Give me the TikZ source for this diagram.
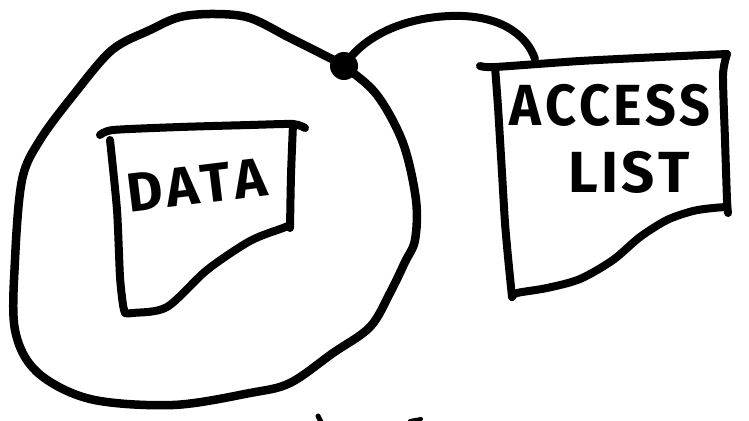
\documentclass[tikz,border=0pt]{standalone}
\usepackage{fontspec}
\setmainfont{Fira Sans}
\newfontfamily\handfont{Fira Sans}[LetterSpace=6, Kerning=Off]
\begin{document}
\begin{tikzpicture}[x=1pt,y=-1pt,
  ink/.style={line width=8.5pt, line cap=round, line join=round, black},
  pen/.style={line width=8pt, line cap=round, line join=round, black},
  hand/.style={font=\handfont\fontsize{58}{58}\selectfont\bfseries, inner sep=0pt}]
\useasboundingbox (0,0) rectangle (749,420);
\clip (0,0) rectangle (749,420);
\fill[white] (0,0) rectangle (749,420);

% the enclosing object
\draw[ink] plot[smooth cycle, tension=0.55] coordinates {(345,67) (377,95) (403,143) (416,200) (415,240) (405,262) (390,293) (370,327) (333,353) (290,383) (250,393) (173,405) (90,399) (37,372) (15,330) (15,260) (22,180) (40,140) (75,93) (112,50) (150,30) (180,17) (215,14) (250,18) (290,38) (320,53)};

% data sheet
\draw[pen] plot[smooth, tension=0.4] coordinates {(100,135) (113,130) (180,127) (250,125) (293,124) (305,128)};
\draw[pen] plot[smooth, tension=0.4] coordinates {(293,124) (291,175) (290,228)};
\draw[pen] plot[smooth, tension=0.5] coordinates {(290,225) (283,228) (250,241) (207,270) (167,307) (133,313) (125,313)};
\draw[pen] plot[smooth, tension=0.4] coordinates {(110,140) (117,210) (120,277) (123,305) (125,313)};
\node[hand, font=\handfont\fontsize{55}{55}\selectfont\bfseries, rotate=7] (data) at (197,185) {DATA};

% access list sheet
\draw[pen] plot[smooth, tension=0.4] coordinates {(480,66) (495,67) (580,61) (660,57) (727,54)};
\draw[pen] plot[smooth, tension=0.4] coordinates {(727,54) (723,75) (725,140) (727,200) (728,213)};
\draw[pen] plot[smooth, tension=0.5] coordinates {(727,207) (713,208) (693,211) (667,220) (640,237) (613,260) (580,279) (547,288) (517,293) (512,297)};
\draw[pen] plot[smooth, tension=0.4] coordinates {(495,67) (498,107) (502,173) (505,223) (508,257) (512,297)};
\node[hand, xscale=0.93] (access) at (610,105) {ACCESS};
\node[hand] (list) at (629,172) {LIST};
\coordinate (acctop) at (535,59);

% attachment point and link
\node[circle, fill=black, minimum size=28pt, inner sep=0pt] (hub) at (344,66) {};
\draw[pen] (hub.center) .. controls (362,38) and (400,18) .. (450,16)
  .. controls (500,14) and (527,35) .. (acctop);

% marks at the lower edge
\draw[line width=5pt, line cap=round] (318,416) -- (321,422);
\draw[line width=4pt, line cap=round] (410,421) -- (421,419);
\end{tikzpicture}
\end{document}
